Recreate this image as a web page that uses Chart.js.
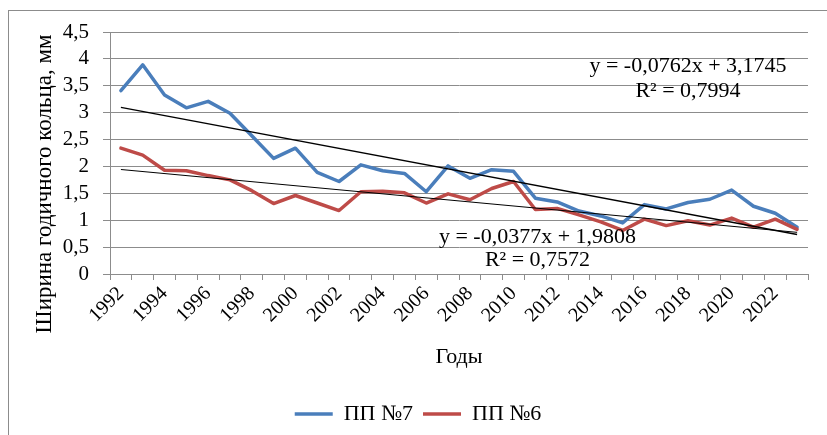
<!DOCTYPE html>
<html>
<head>
<meta charset="utf-8">
<script src="https://cdn.jsdelivr.net/npm/chart.js@4.4.1/dist/chart.umd.min.js"></script>
<style>
  html, body { margin: 0; padding: 0; background: #fff; }
  #wrap { width: 827px; height: 435px; position: relative; }
</style>
</head>
<body>
<div id="wrap"><canvas id="c" width="827" height="435"></canvas></div>
<script>
const years = ['1992','1993','1994','1995','1996','1997','1998','1999','2000','2001','2002','2003','2004','2005','2006','2007','2008','2009','2010','2011','2012','2013','2014','2015','2016','2017','2018','2019','2020','2021','2022','2023'];
const pp7 = [3.41,3.89,3.33,3.09,3.21,2.99,2.57,2.15,2.34,1.89,1.72,2.03,1.92,1.87,1.53,2.01,1.78,1.94,1.91,1.41,1.34,1.17,1.08,0.95,1.29,1.21,1.33,1.39,1.56,1.26,1.13,0.87];
const pp6 = [2.34,2.21,1.93,1.92,1.83,1.75,1.55,1.31,1.46,1.32,1.18,1.53,1.54,1.51,1.32,1.49,1.38,1.59,1.72,1.20,1.22,1.10,0.97,0.81,1.02,0.90,0.99,0.91,1.04,0.87,1.02,0.83];
const trend7Coef = [-0.0762, 3.1745];
const trend6Coef = [-0.0377, 1.9808];
const trend7Labels = ['y = -0,0762x + 3,1745', 'R² = 0,7994'];
const trend6Labels = ['y = -0,0377x + 1,9808', 'R² = 0,7572'];
const yTitle = 'Ширина годичного кольца, мм';
const xTitle = 'Годы';

const FONT = 'Liberation Serif';
Chart.defaults.font.family = FONT;
Chart.defaults.color = '#000';

function trendEnds(coef) {
  const arr = years.map(() => null);
  arr[0] = coef[0] * 1 + coef[1];
  arr[years.length - 1] = coef[0] * years.length + coef[1];
  return arr;
}

const borderPlugin = {
  id: 'outerBorder',
  beforeDraw(chart) {
    const ctx = chart.ctx;
    ctx.save();
    ctx.fillStyle = '#fff';
    ctx.fillRect(0, 0, chart.width, chart.height);
    ctx.strokeStyle = '#8c8c8c';
    ctx.lineWidth = 1;
    ctx.strokeRect(8.5, 10.5, 1000, 1000);
    ctx.restore();
  }
};

const textPlugin = {
  id: 'texts',
  afterDatasetsDraw(chart) {
    const ctx = chart.ctx;
    const x = chart.scales.x, y = chart.scales.y;
    ctx.save();
    ctx.fillStyle = '#000';
    ctx.font = "22px " + FONT;
    ctx.textAlign = 'center';
    ctx.textBaseline = 'middle';
    const x7 = x.getPixelForValue(26.0);
    ctx.fillText(trend7Labels[0], x7, y.getPixelForValue(3.86));
    ctx.fillText(trend7Labels[1], x7, y.getPixelForValue(3.39));
    const x6 = x.getPixelForValue(19.1);
    ctx.fillText(trend6Labels[0], x6, y.getPixelForValue(0.69));
    ctx.fillText(trend6Labels[1], x6, y.getPixelForValue(0.265));
    ctx.font = "23px " + FONT;
    ctx.translate(45, (y.top + y.bottom) / 2 + 31);
    ctx.rotate(-Math.PI / 2);
    ctx.fillText(yTitle, 0, 0);
    ctx.restore();
  }
};

new Chart(document.getElementById('c'), {
  type: 'line',
  data: {
    labels: years,
    datasets: [
      { label: 'ПП №7', data: pp7, borderColor: '#4A7EBB', backgroundColor: '#4A7EBB', borderWidth: 3.5, pointRadius: 0, pointStyle: 'line', tension: 0, borderJoinStyle: 'round', borderCapStyle: 'round', order: 2 },
      { label: 'ПП №6', data: pp6, borderColor: '#BE4B48', backgroundColor: '#BE4B48', borderWidth: 3.5, pointRadius: 0, pointStyle: 'line', tension: 0, borderJoinStyle: 'round', borderCapStyle: 'round', order: 1 },
      { label: 'trend7', data: trendEnds(trend7Coef), borderColor: '#000', borderWidth: 1.5, pointRadius: 0, spanGaps: true, order: 0 },
      { label: 'trend6', data: trendEnds(trend6Coef), borderColor: '#000', borderWidth: 1, pointRadius: 0, spanGaps: true, order: 0 }
    ]
  },
  options: {
    responsive: false,
    animation: false,
    events: [],
    layout: { padding: { left: 28, top: 32, right: 19, bottom: 0 } },
    plugins: {
      tooltip: { enabled: false },
      legend: {
        position: 'bottom',
        labels: {
          sort: (a, b) => a.datasetIndex - b.datasetIndex,
          filter: (item) => item.text.indexOf('trend') !== 0,
          usePointStyle: true,
          pointStyleWidth: 38,
          boxHeight: 8,
          color: '#000',
          font: { family: FONT, size: 22 },
          padding: 10
        }
      }
    },
    scales: {
      x: {
        offset: true,
        afterFit: (s) => { s.height = 119; },
        grid: { offset: true, drawOnChartArea: false, drawTicks: true, tickLength: 6, color: '#8c8c8c' },
        border: { color: '#8c8c8c', width: 1 },
        ticks: {
          autoSkip: false,
          maxRotation: 45, minRotation: 45,
          color: '#000',
          font: { family: FONT, size: 20 },
          padding: 2,
          callback: function(val, idx) { return idx % 2 === 0 ? years[idx] : ''; }
        },
        title: { display: true, text: xTitle, color: '#000', font: { family: FONT, size: 22 }, padding: { top: 4, bottom: 23 } }
      },
      y: {
        min: 0, max: 4.5,
        afterFit: (s) => { s.width = 82; },
        grid: { color: '#8c8c8c', lineWidth: 1, tickLength: 7 },
        border: { color: '#8c8c8c', width: 1 },
        ticks: {
          stepSize: 0.5,
          autoSkip: false,
          color: '#000',
          font: { family: FONT, size: 21 },
          padding: 14,
          callback: (v) => String(v).replace('.', ',')
        },
        title: { display: false }
      }
    }
  },
  plugins: [borderPlugin, textPlugin]
});
</script>
</body>
</html>
